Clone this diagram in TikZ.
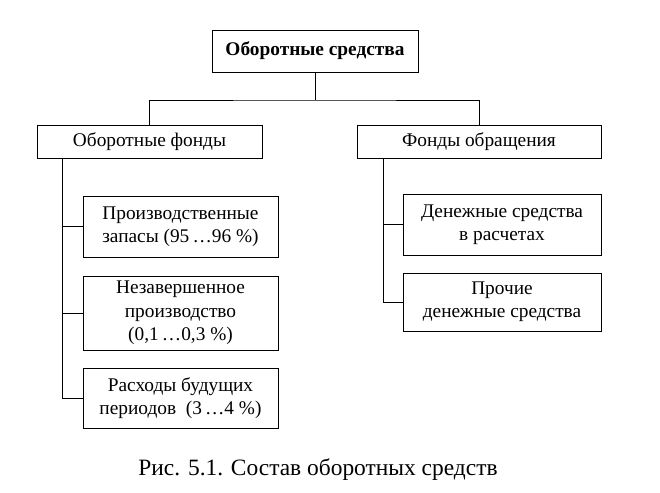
\documentclass[tikz,border=0pt]{standalone}
\usepackage{fontspec}
\setmainfont{Liberation Serif}
\begin{document}
\begin{tikzpicture}[x=0.03cm,y=-0.03cm,
  box/.style={draw,thick,align=center,inner sep=0pt,font=\fontsize{16.5}{20}\selectfont},
  link/.style={thick}]
  \useasboundingbox (0,0) rectangle (660,492);
  % top
  \node[box,font=\fontsize{16.5}{18}\selectfont\bfseries,minimum width=206*0.03cm,minimum height=42*0.03cm] (total) at (315,51) {Оборотные средства};
  \node[box,minimum width=225*0.03cm,minimum height=33*0.03cm] (funds) at (149.5,141.5) {Оборотные фонды};
  \node[box,minimum width=244*0.03cm,minimum height=33*0.03cm] (circ) at (479,141.5) {Фонды обращения};
  \draw[link] (total.south) -- (315,100) coordinate (split);
  \draw[link] (funds.north) |- (split) -| (circ.north);

  % left branch
  \node[box,minimum width=195*0.03cm,minimum height=61*0.03cm] (stock) at (180.5,226.5) {Производственные\\запасы (95\,\dots96 \%)};
  \node[box,minimum width=195*0.03cm,minimum height=74*0.03cm] (wip) at (180.5,313) {Незавершенное\\производство\\(0,1\,\dots0,3 \%)};
  \node[box,minimum width=195*0.03cm,minimum height=60*0.03cm] (defer) at (180.5,398) {Расходы будущих\\периодов \ (3\,\dots4 \%)};
  \coordinate (lbus) at (62,158);
  \draw[link] (lbus) |- (defer.west);
  \draw[link] (62,226.5) -- (stock.west);
  \draw[link] (62,313) -- (wip.west);

  % right branch
  \node[box,minimum width=198*0.03cm,minimum height=61*0.03cm] (cash) at (502,224.5) {Денежные средства\\в расчетах};
  \node[box,minimum width=198*0.03cm,minimum height=58*0.03cm] (other) at (502,302) {Прочие\\денежные средства};
  \coordinate (rbus) at (383,158);
  \draw[link] (rbus) |- (other.west);
  \draw[link] (383,224.5) -- (cash.west);

  \node[font=\fontsize{20}{22}\selectfont] (cap) at (318,470) {Рис. 5.1. Состав оборотных средств};
\end{tikzpicture}
\end{document}
